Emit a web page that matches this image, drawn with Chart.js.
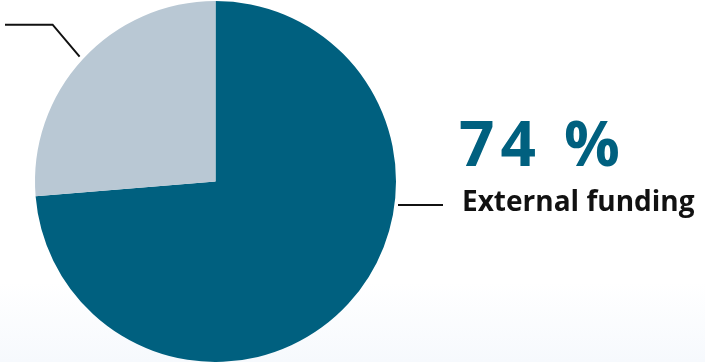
<!DOCTYPE html>
<html lang="en">
<head>
    <meta charset="UTF-8">
    <title>Funding share</title>
    <script src="https://cdn.jsdelivr.net/npm/chart.js"></script>
    <style>
        html, body {
            margin: 0;
            padding: 0;
            width: 705px;
            height: 362px;
            overflow: hidden;
            background: linear-gradient(to bottom, #ffffff 0%, #ffffff 78%, #f6f9fd 100%);
            font-family: 'Open Sans', 'Noto Sans', sans-serif;
        }

        .wrap {
            position: relative;
            width: 705px;
            height: 362px;
        }

        #fundingChart {
            position: absolute;
            left: 0;
            top: 0;
        }

        .big-value {
            position: absolute;
            left: 459px;
            top: 111px;
            font-size: 62px;
            font-weight: 700;
            color: #00607f;
            letter-spacing: 6px;
            line-height: 1;
            white-space: nowrap;
        }

        .big-label {
            position: absolute;
            left: 462px;
            top: 184px;
            font-size: 28px;
            font-weight: 700;
            color: #111;
            line-height: 1.2;
            white-space: nowrap;
        }
    </style>
</head>
<body>
    <div class="wrap">
        <canvas id="fundingChart" width="705" height="362"></canvas>
        <div class="big-value">74 %</div>
        <div class="big-label">External funding</div>
    </div>

    <script>
        const labels = ['External funding', 'Other'];
        const shares = [73.7, 26.3];
        const colors = ['#00607f', '#b9c8d4'];

        // leader lines from the slice edges out to the labels
        const leaderLines = {
            id: 'leaderLines',
            afterDatasetsDraw(chart) {
                const ctx = chart.ctx;
                const arcs = chart.getDatasetMeta(0).data;
                ctx.save();
                ctx.strokeStyle = '#111';
                ctx.lineWidth = 2;

                // external funding: horizontal line from right edge
                const a = arcs[0];
                const rightX = a.x + a.outerRadius;
                ctx.beginPath();
                ctx.moveTo(rightX + 2, 205);
                ctx.lineTo(rightX + 47, 205);
                ctx.stroke();

                // other share: elbow from upper-left of the light slice
                const b = arcs[1];
                const ang = -Math.PI / 2 - 0.828;
                const px = b.x + Math.cos(ang) * (b.outerRadius + 4);
                const py = b.y + Math.sin(ang) * (b.outerRadius + 4);
                ctx.beginPath();
                ctx.moveTo(px, py);
                ctx.lineTo(px - 27, py - 32);
                ctx.lineTo(5, py - 32);
                ctx.stroke();
                ctx.restore();
            }
        };

        new Chart(document.getElementById('fundingChart'), {
            type: 'pie',
            data: {
                labels: labels,
                datasets: [{
                    data: shares,
                    backgroundColor: colors,
                    borderWidth: 0
                }]
            },
            options: {
                responsive: false,
                animation: false,
                layout: {
                    padding: { left: 35, right: 309, top: 1, bottom: 0 }
                },
                plugins: {
                    legend: { display: false },
                    tooltip: { enabled: false }
                }
            },
            plugins: [leaderLines]
        });
    </script>
</body>
</html>
